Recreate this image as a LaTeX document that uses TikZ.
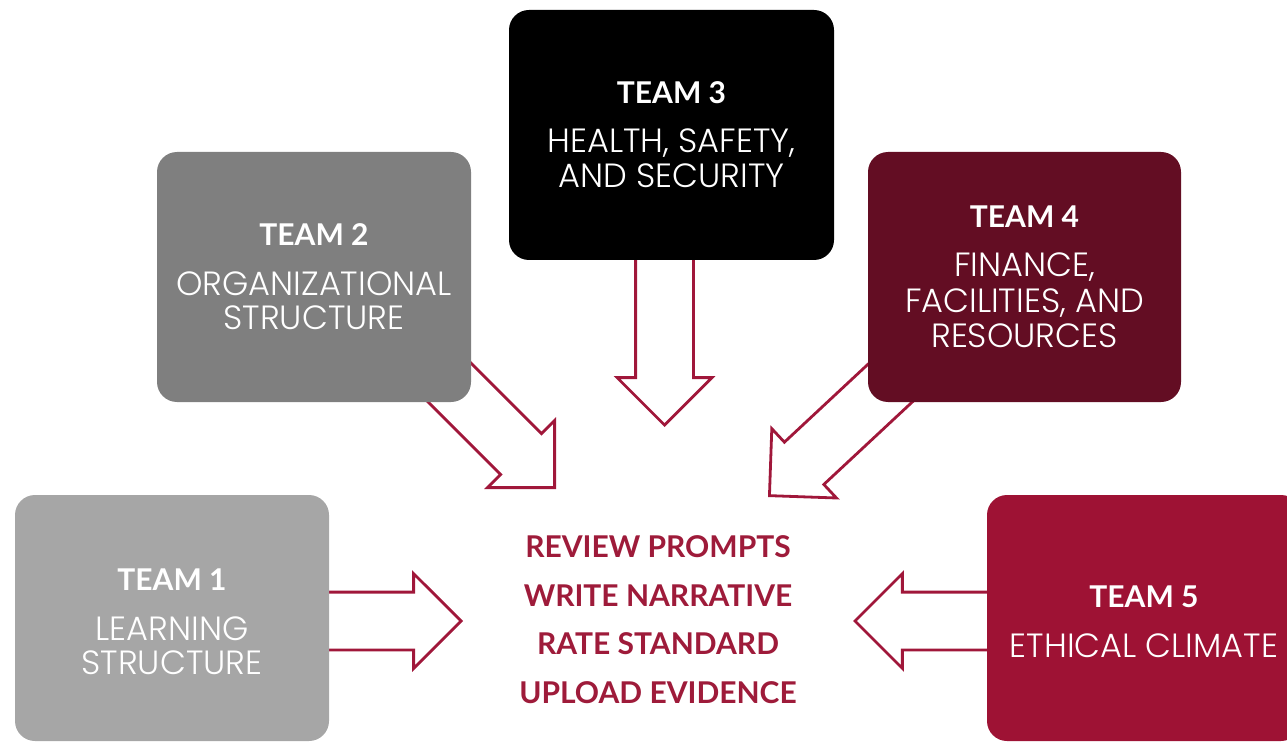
\documentclass[tikz,border=0pt]{standalone}
\usepackage{fontspec}
\setmainfont{Lato}
\newfontfamily\lightfont{Poppins}[UprightFont=* Light, Scale=1.12]
\usetikzlibrary{shapes.arrows}
\pgfdeclarelayer{background}
\pgfsetlayers{background,main}
\definecolor{grayA}{HTML}{A6A6A6}
\definecolor{grayB}{HTML}{7F7F7F}
\definecolor{maroon}{HTML}{630D23}
\definecolor{crimson}{HTML}{9E1234}
\definecolor{arrowred}{HTML}{A0173A}
\definecolor{textred}{HTML}{9E1B3A}
\tikzset{
  teambox/.style={rounded corners=20pt, minimum width=314pt, minimum height=250pt,
    inner sep=0pt, text=white, align=center, font=\fontsize{30}{34}\selectfont},
  teambox3/.style={teambox, font=\fontsize{30}{35.5}\selectfont},
  teamtext/.style={text=white, align=center, inner sep=0pt, font=\fontsize{30}{34}\selectfont},
  barrow/.style={single arrow, draw=arrowred, line width=2.8pt, inner xsep=0pt,
    inner ysep=27.5pt, single arrow head extend=18.5pt, single arrow tip angle=90,
    line join=miter, anchor=tip},
  centertext/.style={text=textred, align=center, inner sep=0pt,
    font=\bfseries\fontsize{30}{48.5}\selectfont}
}
\begin{document}
\begin{tikzpicture}[x=1pt,y=-1pt]
\useasboundingbox (0,0) rectangle (1287,743);
\clip (0,0) rectangle (1287,743);
% boxes
\node[teambox, fill=grayA, minimum height=246pt] (t1) at (172,618) {};
\node[teamtext] (t1l) at (172,622)
  {{\bfseries TEAM 1}\\[16pt]{\lightfont LEARNING}\\{\lightfont STRUCTURE}};
\node[teambox, fill=grayB] (t2) at (314,277)
  {{\bfseries TEAM 2}\\[16pt]{\lightfont ORGANIZATIONAL}\\{\lightfont STRUCTURE}};
\node[teambox3, fill=black, minimum width=325pt] (t3) at (671.5,135)
  {{\bfseries TEAM 3}\\[13pt]{\lightfont HEALTH, SAFETY,}\\{\lightfont AND SECURITY}};
\node[teambox3, fill=maroon, minimum width=313pt] (t4) at (1024.5,277)
  {{\bfseries TEAM 4}\\[14pt]{\lightfont FINANCE,}\\{\lightfont FACILITIES, AND}\\{\lightfont RESOURCES}};
\node[teambox, fill=crimson, minimum height=246pt] (t5) at (1144,618) {};
\node[teamtext] (t5l) at (1144,622)
  {{\bfseries TEAM 5}\\[16pt]{\lightfont ETHICAL CLIMATE}};
% center
\node[centertext] (c) at (658,619.5)
  {REVIEW PROMPTS\\WRITE NARRATIVE\\RATE STANDARD\\UPLOAD EVIDENCE};
% arrows (tails hidden under the team boxes)
\begin{pgfonlayer}{background}
\node[barrow, minimum height=163pt] (a1) at (463,621) {};
\node[barrow, minimum height=192pt, rotate=-45] (a2) at (556,489) {};
\node[barrow, minimum height=187pt, rotate=-90] (a3) at (664.5,427) {};
\node[barrow, minimum height=200pt, rotate=223] (a4) at (768,497) {};
\node[barrow, minimum height=157pt, rotate=180] (a5) at (853,621) {};
\end{pgfonlayer}
\end{tikzpicture}
\end{document}
